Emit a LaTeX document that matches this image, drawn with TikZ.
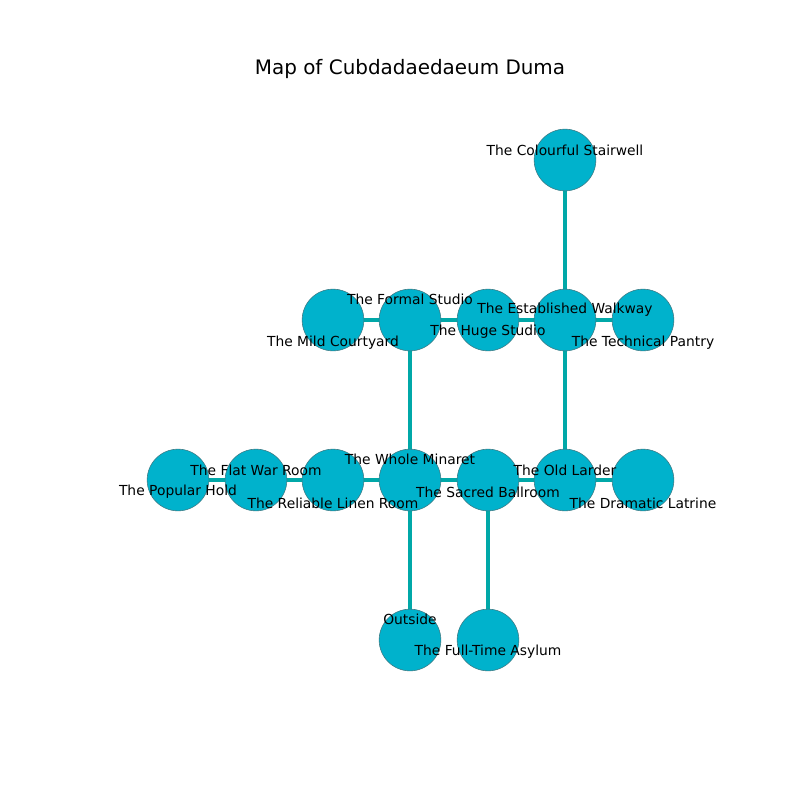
\documentclass[tikz,border=0pt]{standalone}
\usepackage{fontspec}
\setmainfont{DejaVu Sans}
\usetikzlibrary{backgrounds}
\definecolor{roomfill}{RGB}{0,178,204}
\definecolor{roomedge}{RGB}{60,120,130}
\definecolor{hall}{RGB}{0,168,168}

\begin{document}
\begin{tikzpicture}[
		x=0.254mm, y=-0.254mm,
		room/.style={circle, draw=roomedge, line width=0.4pt,
			fill=roomfill, minimum size=44.6pt, inner sep=0pt},
		tag/.style={font=\fontsize{10}{12}\selectfont, inner sep=0pt, yshift=-1.4pt},
		hall/.style={draw=hall, line width=3.6pt},
		]
		\useasboundingbox (0,0) rectangle (800,800);

		\node (title) [font=\fontsize{14.4}{17}\selectfont] at (410,69) {Map of Cubdadaedaeum Duma};

		% rooms
		\node (stairwell) [room] at (565,160) {};
		\node (courtyard) [room] at (333,320) {};
		\node (formal) [room] at (410,320) {};
		\node (huge) [room] at (488,320) {};
		\node (walkway) [room] at (565,320) {};
		\node (pantry) [room] at (643,320) {};
		\node (popular) [room] at (178,480) {};
		\node (flat) [room] at (256,480) {};
		\node (linen) [room] at (333,480) {};
		\node (minaret) [room] at (410,480) {};
		\node (ballroom) [room] at (488,480) {};
		\node (larder) [room] at (565,480) {};
		\node (latrine) [room] at (643,480) {};
		\node (outside) [room] at (410,640) {};
		\node (asylum) [room] at (488,640) {};

		% labels
		\node (stairwell-t) [tag] at (565,148) {The Colourful Stairwell};
		\node (formal-t) [tag] at (410,297) {The Formal Studio};
		\node (courtyard-t) [tag] at (333,341) {The Mild Courtyard};
		\node (huge-t) [tag] at (488,330) {The Huge Studio};
		\node (walkway-t) [tag] at (565,308) {The Established Walkway};
		\node (pantry-t) [tag] at (643,341) {The Technical Pantry};
		\node (flat-t) [tag] at (256,468) {The Flat War Room};
		\node (popular-t) [tag] at (178,490) {The Popular Hold};
		\node (linen-t) [tag] at (333,501) {The Reliable Linen Room};
		\node (minaret-t) [tag] at (410,457) {The Whole Minaret};
		\node (ballroom-t) [tag] at (488,490) {The Sacred Ballroom};
		\node (larder-t) [tag] at (565,468) {The Old Larder};
		\node (latrine-t) [tag] at (643,501) {The Dramatic Latrine};
		\node (outside-t) [tag] at (410,617) {Outside};
		\node (asylum-t) [tag] at (488,650) {The Full-Time Asylum};

		\begin{pgfonlayer}{background}
			\draw[hall] (stairwell.center) -- (walkway.center);
			\draw[hall] (courtyard.center) -- (formal.center) -- (huge.center) -- (walkway.center) -- (pantry.center);
			\draw[hall] (formal.center) -- (minaret.center) -- (outside.center);
			\draw[hall] (walkway.center) -- (larder.center);
			\draw[hall] (popular.center) -- (flat.center) -- (linen.center) -- (minaret.center) -- (ballroom.center) -- (larder.center) -- (latrine.center);
			\draw[hall] (ballroom.center) -- (asylum.center);
		\end{pgfonlayer}

	\end{tikzpicture}
\end{document}
